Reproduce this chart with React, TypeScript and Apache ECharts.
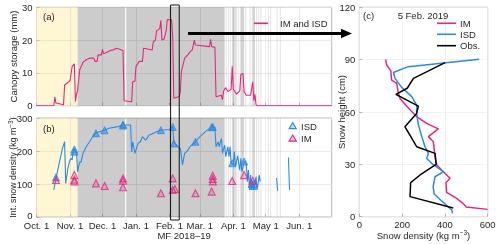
import React, { useEffect, useRef } from 'react';
import * as echarts from 'echarts';

const FONT = "'Liberation Sans', Arial, Helvetica, sans-serif";
const PINK = '#e3277f';
const BLUE = '#2a8be3';
const TXT = '#262626';
const FRAME = '#a6a6a6';

// ---------- x axis (time) ----------
const xStart = '2018-10-01';
const xEnd = '2019-07-01';
const monthTickDates = ['2018-10-01', '2018-11-01', '2018-12-01', '2019-01-01', '2019-02-01', '2019-03-01', '2019-04-01', '2019-05-01', '2019-06-01'];
const monthTickLabels = ['Oct. 1', 'Nov. 1', 'Dec. 1', 'Jan. 1', 'Feb. 1', 'Mar. 1', 'Apr. 1', 'May 1', 'Jun. 1'];

// ---------- shaded periods ----------
const preSnowPeriod = ['2018-10-01', '2018-11-08'];
const snowPeriods = [['2018-11-08', '2018-12-22'], ['2018-12-23', '2019-03-24']];
const snowDaysLight = ['2019-03-25', '2019-03-27', '2019-03-29', '2019-04-02', '2019-04-05', '2019-04-07', '2019-04-12', '2019-04-16', '2019-04-18', '2019-04-22', '2019-04-24', '2019-04-26', '2019-05-03', '2019-05-05', '2019-05-11', '2019-05-14'];
const snowDaysDark = ['2019-03-31', '2019-04-01', '2019-04-03', '2019-04-08', '2019-04-09', '2019-04-10', '2019-04-19', '2019-04-20'];

// ---------- panel (a): canopy storage ----------
const canopyDates = ['2018-10-01', '2018-10-17', '2018-10-18', '2018-10-19', '2018-10-26', '2018-10-27', '2018-10-31', '2018-11-01', '2018-11-03', '2018-11-05', '2018-11-06', '2018-11-07', '2018-11-08', '2018-11-10', '2018-11-13', '2018-11-16', '2018-11-19', '2018-11-23', '2018-11-24', '2018-11-26', '2018-11-27', '2018-11-30', '2018-12-01', '2018-12-02', '2018-12-05', '2018-12-09', '2018-12-12', '2018-12-13', '2018-12-16', '2018-12-20', '2018-12-21', '2018-12-28', '2018-12-29', '2018-12-31', '2019-01-01', '2019-01-04', '2019-01-07', '2019-01-08', '2019-01-16', '2019-01-17', '2019-01-19', '2019-01-20', '2019-01-23', '2019-01-24', '2019-01-25', '2019-01-27', '2019-01-29', '2019-01-30', '2019-02-03', '2019-02-04', '2019-02-05', '2019-02-08', '2019-02-10', '2019-02-11', '2019-02-12', '2019-02-15', '2019-02-18', '2019-02-20', '2019-02-22', '2019-02-24', '2019-02-25', '2019-03-10', '2019-03-11', '2019-03-12', '2019-03-15', '2019-03-16', '2019-03-21', '2019-03-22', '2019-03-23', '2019-03-25', '2019-03-27', '2019-03-30', '2019-03-31', '2019-04-01', '2019-04-04', '2019-04-07', '2019-04-08', '2019-04-10', '2019-04-11', '2019-04-13', '2019-04-17', '2019-04-19', '2019-04-20', '2019-04-21', '2019-04-22', '2019-04-23', '2019-07-01'];
const canopyValues = [0, 0, 2.6, 0.8, 0.3, 6.3, 7.3, 7.6, 11.9, 12.8, 1.2, 3.5, 4.5, 11, 13.2, 14, 14.5, 14.5, 13.5, 13.5, 15.5, 15.5, 17.2, 15.8, 16.3, 16.9, 17.1, 17.5, 17.3, 16.8, 1.5, 1.2, 7.3, 7.5, 12, 13.5, 13.5, 17.5, 17, 19.5, 20, 22.8, 23.5, 26, 20, 20.3, 23, 26.3, 26.2, 20.5, 2.3, 2.6, 2.8, 4.3, 10.4, 14.5, 15.5, 16.5, 17, 20, 18.5, 18, 20.2, 18, 17.8, 2.7, 3.2, 1.8, 4.5, 5.5, 4.3, 5, 12, 5, 3.5, 4.5, 9.5, 9.8, 4.3, 3.2, 3.2, 7.3, 1.5, 3.5, 0.3, 0, 0];

// ---------- panel (b): integrated snow density ----------
const isdDates = ['2018-10-17', '2018-10-19', '2018-10-22', '2018-10-25', '2018-10-27', '2018-10-28', '2018-10-30', '2018-11-01', '2018-11-02', '2018-11-03', '2018-11-04', '2018-11-05', '2018-11-07', '2018-11-08', '2018-11-10', '2018-11-11', '2018-11-13', '2018-11-16', '2018-11-19', '2018-11-22', '2018-11-25', '2018-11-28', '2018-12-03', '2018-12-07', '2018-12-14', '2018-12-20', '2018-12-27', '2018-12-28', '2018-12-29', '2018-12-31', '2019-01-03', '2019-01-05', '2019-01-07', '2019-01-10', '2019-01-13', '2019-01-20', '2019-01-24', '2019-02-01', '2019-02-04', '2019-02-05', '2019-02-06', '2019-02-09', '2019-02-11', '2019-02-13', '2019-02-15', '2019-02-17', '2019-02-20', '2019-02-25', '2019-03-01', '2019-03-07', '2019-03-12', '2019-03-13', '2019-03-15', '2019-03-16', '2019-03-18', '2019-03-19', '2019-03-21', '2019-03-22', '2019-03-24', '2019-03-25', '2019-03-27', '2019-03-28', '2019-03-29', '2019-03-30', '2019-04-01', '2019-04-02', '2019-04-03', '2019-04-05', '2019-04-07', '2019-04-08', '2019-04-09', '2019-04-11', '2019-04-13', '2019-04-14', '2019-04-15', '2019-04-16', '2019-04-17', '2019-04-18', '2019-04-19', '2019-04-20', '2019-04-22', '2019-04-23', '2019-04-25', '2019-04-26', '2019-04-27', '2019-05-11', '2019-05-12', '2019-05-13', '2019-05-22', '2019-05-23'];
const isdValues = [82, 117, 163, 208, 228, 102, 147, 173, 178, 173, 203, 205, 195, 137, 168, 165, 193, 213, 228, 243, 254, 258, 263, 269, 273, 279, 279, 198, 228, 193, 223, 228, 243, 233, 248, 258, 263, 265, 273, 228, 223, 213, 208, 158, 193, 198, 213, 228, 243, 261, 272, 273, 272, 213, 228, 213, 238, 193, 218, 183, 213, 183, 213, 163, 158, 198, 152, 185, 142, 178, 137, 168, 163, 107, 142, 82, 127, 82, 110, 82, 122, 82, 127, 107, null, 118, 80, null, 180, 82];

const isdObsDates = ['2018-10-19', '2018-11-05', '2018-11-05', '2018-11-25', '2018-12-03', '2018-12-20', '2018-12-20', '2019-01-24', '2019-02-04', '2019-02-05', '2019-02-25', '2019-03-12', '2019-03-13', '2019-03-31', '2019-04-11', '2019-04-18', '2019-04-19', '2019-04-20'];
const isdObsValues = [120, 205, 198, 254, 263, 280, 277, 263, 273, 223, 228, 272, 273, 163, 168, 100, 94, 100];

const imObsDates = ['2018-10-19', '2018-11-05', '2018-11-05', '2018-11-05', '2018-11-25', '2018-12-03', '2018-12-20', '2018-12-20', '2018-12-20', '2019-01-24', '2019-02-04', '2019-02-04', '2019-02-06', '2019-02-25', '2019-03-12', '2019-03-13', '2019-03-13', '2019-03-13', '2019-03-31', '2019-04-11', '2019-04-19'];
const imObsValues = [112, 127, 113, 108, 102, 94, 117, 110, 90, 72, 117, 82, 85, 72, 77, 125, 115, 108, 109, 127, 110];

// ---------- panel (c): profiles on 5 Feb. 2019 ----------
const imProfileDensity = [123, 128, 147, 151, 175, 182, 190, 221, 268, 315, 369, 323, 346, 354, 362, 401, 424, 405, 408, 455, 490, 500, 600];
const imProfileHeight = [90.2, 86.9, 83.7, 78.3, 76.4, 71.1, 67.8, 63.4, 57.3, 53.5, 50.3, 45.9, 43, 34.4, 29.6, 24.8, 22, 19.5, 14, 10.5, 7, 5.5, 4.2];
const isdProfileDensity = [560, 229, 159, 167, 198, 245, 268, 268, 276, 292, 307, 323, 315, 338, 393, 354, 345, 350, 380, 432, 436];
const isdProfileHeight = [90.2, 86, 82.6, 79.3, 74.1, 68.8, 64, 59.2, 52.6, 45.9, 40.1, 36.3, 33.4, 30.6, 25.8, 22.9, 17.2, 13, 9.6, 3.8, 1.9];
const obsProfileDensity = [401, 253, 224, 171, 276, 268, 213, 268, 354, 359, 284, 240, 237, 439];
const obsProfileHeight = [88.3, 79.3, 73.6, 70.1, 63.4, 59.2, 51.6, 40.1, 36.3, 30, 23.9, 19.5, 11.5, 5];

const zoomWindow = ['2019-02-02', '2019-02-10'];

const DAY = 86400000;
const toT = (d: string) => Date.parse(d);
const zip = (xs: any[], ys: any[]) => xs.map((x, i) => [x, ys[i]]);

const GRID_A = { left: 36.5, top: 7.3, width: 295.2, height: 98.4 };
const GRID_B = { left: 36.5, top: 118, width: 295.2, height: 99 };
const GRID_C = { left: 359.3, top: 7.3, width: 128.4, height: 209.4 };

const supRich = { sup: { fontSize: 6.5, verticalAlign: 'top', lineHeight: 8, fontFamily: FONT, color: TXT } };
const nameStyle = (fs = 9.5) => ({ fontSize: fs, fontFamily: FONT, color: TXT, lineHeight: 12, rich: supRich });
const labelStyle = { fontSize: 9.5, fontFamily: FONT, color: TXT, lineHeight: 8 };

function bands() {
  const band = (s: number, e: number, color: string) => [{ xAxis: s, itemStyle: { color } }, { xAxis: e }];
  const out: any[] = [];
  out.push(band(toT(preSnowPeriod[0]), toT(preSnowPeriod[1]), 'rgba(255,220,80,0.25)'));
  snowPeriods.forEach((p) => out.push(band(toT(p[0]), toT(p[1]), 'rgba(0,0,0,0.2)')));
  snowDaysLight.forEach((d) => out.push(band(toT(d), toT(d) + DAY, 'rgba(0,0,0,0.1)')));
  snowDaysDark.forEach((d) => out.push(band(toT(d), toT(d) + DAY, 'rgba(0,0,0,0.18)')));
  return { silent: true, label: { show: false }, data: out };
}

function timeAxis(gridIndex: number, showLabels: boolean) {
  const ticks = monthTickDates.map(toT);
  return {
    type: 'value',
    gridIndex,
    min: toT(xStart),
    max: toT(xEnd),
    axisLine: { show: false },
    axisTick: { show: true, inside: true, length: 3, customValues: ticks, lineStyle: { color: FRAME, width: 0.8 } },
    axisLabel: {
      show: showLabels,
      customValues: ticks,
      margin: 4.5,
      ...labelStyle,
      formatter: (v: number) => {
        const i = ticks.findIndex((t) => Math.abs(t - v) < 1000);
        return i >= 0 ? monthTickLabels[i] : '';
      },
    },
    splitLine: { show: true, lineStyle: { color: '#e3e3e3', width: 0.8 } },
    name: showLabels ? 'MF 2018\u201319' : '',
    nameLocation: 'middle',
    nameGap: 12.5,
    nameMoveOverlap: false,
    nameTextStyle: nameStyle(),
  };
}

function valueAxis(gridIndex: number, min: number, max: number, interval: number, name: string, nameGap: number, isY: boolean, fs = 9.5, liftZero = false) {
  return {
    type: 'value',
    gridIndex,
    min,
    max,
    interval,
    axisLine: { show: false },
    axisTick: { show: true, inside: true, length: 3, lineStyle: { color: FRAME, width: 0.8 } },
    axisLabel: {
      margin: 4,
      ...labelStyle,
      formatter: liftZero ? (v: number) => (v === 0 ? '{z|0}' : String(v)) : undefined,
      rich: { z: { fontSize: 9.5, fontFamily: FONT, color: TXT, padding: [0, 0, 4, 0] } },
    },
    splitLine: { show: true, lineStyle: { color: gridIndex === 2 ? '#eeeeee' : '#e3e3e3', width: 0.8 } },
    name,
    nameLocation: 'middle',
    nameGap,
    nameMoveOverlap: false,
    nameTextStyle: nameStyle(fs),
  };
}

export default function App() {
  const ref = useRef<HTMLDivElement>(null);
  useEffect(() => {
    if (!ref.current) return;
    const chart = echarts.init(ref.current, null, { renderer: 'svg' });
    const gridBase = { show: true, borderColor: FRAME, borderWidth: 0.8, backgroundColor: 'transparent', containLabel: false, outerBoundsMode: 'none' };
    const option: any = {
      animation: false,
      textStyle: { fontFamily: FONT },
      grid: [{ ...gridBase, ...GRID_A }, { ...gridBase, ...GRID_B }, { ...gridBase, ...GRID_C }],
      xAxis: [
        timeAxis(0, false),
        timeAxis(1, true),
        valueAxis(2, 0, 600, 200, 'Snow density (kg m{sup|\u22123})', 12.5, false),
      ],
      yAxis: [
        valueAxis(0, 0, 30, 10, 'Canopy storage (mm)', 17.2, true),
        valueAxis(1, 0, 300, 100, 'Int. snow density (kg m{sup|\u22123})', 18, true, 8.8, true),
        valueAxis(2, 0, 120, 30, 'Snow height (cm)', 12.3, true),
      ],
      series: [
        {
          name: 'IM and ISD',
          type: 'line',
          xAxisIndex: 0,
          yAxisIndex: 0,
          data: zip(canopyDates.map(toT), canopyValues),
          symbol: 'none',
          lineStyle: { color: PINK, width: 1.1 },
          itemStyle: { color: PINK },
          markArea: bands(),
          z: 3,
        },
        {
          name: 'ISD line',
          type: 'line',
          xAxisIndex: 1,
          yAxisIndex: 1,
          data: zip(isdDates.map(toT), isdValues),
          connectNulls: false,
          symbol: 'none',
          lineStyle: { color: BLUE, width: 1.1 },
          itemStyle: { color: BLUE },
          markArea: bands(),
          z: 3,
        },
        {
          name: 'ISD',
          type: 'scatter',
          xAxisIndex: 1,
          yAxisIndex: 1,
          data: zip(isdObsDates.map(toT), isdObsValues),
          symbol: 'triangle',
          symbolSize: 7,
          itemStyle: { color: 'rgba(42,139,227,0.75)', borderColor: BLUE, borderWidth: 1 },
          z: 4,
        },
        {
          name: 'IM',
          type: 'scatter',
          xAxisIndex: 1,
          yAxisIndex: 1,
          data: zip(imObsDates.map(toT), imObsValues),
          symbol: 'triangle',
          symbolSize: 7,
          itemStyle: { color: 'rgba(227,39,127,0.3)', borderColor: PINK, borderWidth: 1.1 },
          z: 4,
        },
        {
          name: 'IM profile',
          type: 'line',
          xAxisIndex: 2,
          yAxisIndex: 2,
          data: zip(imProfileDensity, imProfileHeight),
          symbol: 'none',
          lineStyle: { color: PINK, width: 1.5 },
          z: 3,
        },
        {
          name: 'ISD profile',
          type: 'line',
          xAxisIndex: 2,
          yAxisIndex: 2,
          data: zip(isdProfileDensity, isdProfileHeight),
          symbol: 'none',
          lineStyle: { color: BLUE, width: 1.5 },
          z: 4,
        },
        {
          name: 'Obs. profile',
          type: 'line',
          xAxisIndex: 2,
          yAxisIndex: 2,
          data: zip(obsProfileDensity, obsProfileHeight),
          symbol: 'none',
          lineStyle: { color: '#000000', width: 1.5 },
          z: 5,
        },
      ],
    };
    chart.setOption(option);

    const p0 = chart.convertToPixel({ gridIndex: 0 }, [toT(zoomWindow[0]), 30]) as number[];
    const p1 = chart.convertToPixel({ gridIndex: 0 }, [toT(zoomWindow[1]), 30]) as number[];
    const rectTop = GRID_A.top - 2.3;
    const rectBottom = GRID_B.top + GRID_B.height + 3;

    const txt = (text: string, x: number, y: number, align = 'left', extra: any = {}) => ({
      type: 'text',
      z: 100,
      style: { text, x, y, align, verticalAlign: 'middle', fontSize: 9.5, fontFamily: FONT, fill: TXT, ...extra },
    });
    const lline = (x1: number, x2: number, y: number, color: string) => ({
      type: 'line',
      z: 100,
      shape: { x1, y1: y, x2, y2: y },
      style: { stroke: color, lineWidth: 1.6 },
    });
    const tri = (x: number, y: number, fill: string, stroke: string) => ({
      type: 'polygon',
      z: 100,
      shape: { points: [[x, y - 3.5], [x + 3.6, y + 2.6], [x - 3.6, y + 2.6]] },
      style: { fill, stroke, lineWidth: 1.1 },
    });

    chart.setOption({
      graphic: [
        txt('(a)', 43, 16.7),
        txt('(b)', 43, 128.5),
        txt('(c)', 363, 15),
        txt('5 Feb. 2019', 423, 15, 'center'),
        lline(254, 268, 23.3, PINK),
        txt('IM and ISD', 280, 23.3),
        tri(292.7, 126, 'rgba(42,139,227,0.3)', BLUE),
        txt('ISD', 301, 126),
        tri(292.7, 138.5, 'rgba(227,39,127,0.25)', PINK),
        txt('IM', 301, 138.5),
        lline(437, 456, 23.3, PINK),
        txt('IM', 460, 23.3),
        lline(437, 456, 34.3, BLUE),
        txt('ISD', 460, 34.3),
        lline(437, 456, 45.7, '#000000'),
        txt('Obs.', 460, 45.7),
        {
          type: 'rect',
          z: 101,
          shape: { x: p0[0], y: rectTop, width: p1[0] - p0[0], height: rectBottom - rectTop },
          style: { fill: 'none', stroke: '#111111', lineWidth: 1 },
        },
        {
          type: 'line',
          z: 101,
          shape: { x1: 188, y1: 33.5, x2: 342, y2: 33.5 },
          style: { stroke: '#000000', lineWidth: 3 },
        },
        {
          type: 'polygon',
          z: 101,
          shape: { points: [[352, 33.5], [341, 28.8], [341, 38.2]] },
          style: { fill: '#000000' },
        },
      ],
    });

    return () => chart.dispose();
  }, []);
  return <div ref={ref} style={{ position: 'fixed', left: 0, top: 0, width: 500, height: 244 }} />;
}
